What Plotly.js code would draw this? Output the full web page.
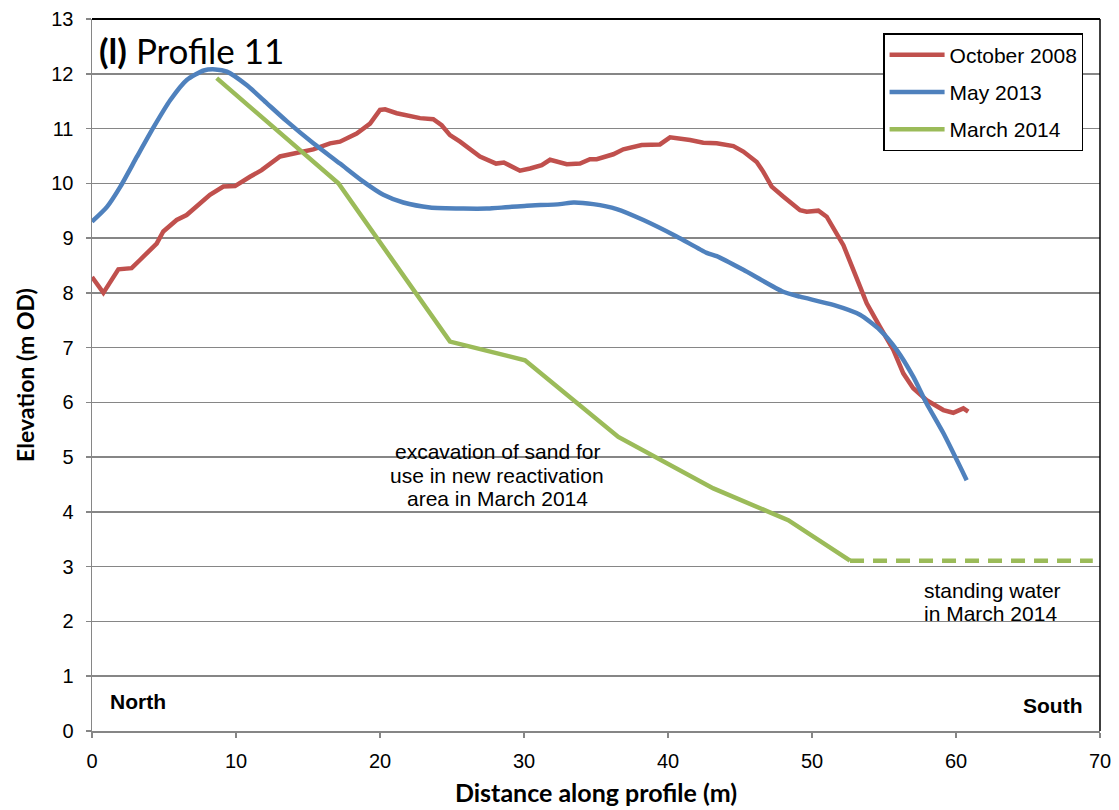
<!DOCTYPE html>
<html>
<head>
<meta charset="utf-8">
<script src="https://cdn.plot.ly/plotly-3.0.1.min.js"></script>
<style>html,body{margin:0;padding:0;background:#fff;}#chart{width:1119px;height:810px;}</style>
</head>
<body>
<div id="chart"></div>
<script>
// October 2008 survey
const oct2008X = [0,0.79,1.83,2.75,3.33,4.49,4.95,5.88,6.57,7.27,8.19,9.12,9.93,10.97,11.78,13.06,14.2,15.37,16.53,17.22,18.38,19.31,20.0,20.35,21.16,22.78,23.7,24.28,24.86,25.56,26.94,28.06,28.6,29.72,30.42,31.23,31.81,32.97,33.89,34.58,35.05,36.2,36.9,38.17,39.44,40.14,41.53,42.45,43.38,44.54,45.23,46.16,46.62,47.2,48.0,49.17,49.63,50.44,51.02,52.18,52.87,53.8,54.72,55.65,56.34,57.03,57.96,59.12,59.81,60.51,60.85];
const oct2008Y = [8.29,8.0,8.43,8.45,8.6,8.9,9.12,9.33,9.42,9.57,9.79,9.94,9.95,10.12,10.24,10.49,10.55,10.62,10.73,10.76,10.91,11.09,11.34,11.35,11.28,11.19,11.17,11.06,10.88,10.76,10.49,10.36,10.38,10.23,10.27,10.33,10.43,10.35,10.36,10.44,10.44,10.53,10.62,10.7,10.71,10.84,10.79,10.74,10.73,10.68,10.58,10.39,10.21,9.94,9.76,9.51,9.48,9.5,9.39,8.87,8.42,7.81,7.38,6.96,6.53,6.26,6.04,5.86,5.81,5.89,5.83];
// May 2013 survey
const may2013X = [0,1.04,1.97,3.13,4.29,5.44,6.6,7.76,8.56,9.37,10.76,12.15,13.54,15.37,17.22,18.84,20.23,21.62,23.47,25.79,27.41,30.19,32.5,33.43,34.81,36.44,38.29,40.6,42.69,43.38,45.23,48.0,49.17,51.48,53.33,54.72,55.88,57.03,57.96,59.12,60.74];
const may2013Y = [9.30,9.57,9.94,10.49,11.03,11.52,11.89,12.06,12.08,12.04,11.79,11.46,11.13,10.73,10.36,10.03,9.79,9.65,9.56,9.54,9.54,9.59,9.62,9.65,9.62,9.53,9.33,9.03,8.73,8.67,8.42,8.02,7.93,7.78,7.6,7.32,6.96,6.47,5.98,5.44,4.58];
// March 2014 survey
const mar2014X = [8.66,17.11,24.86,30.07,36.55,43.15,48.35,52.64];
const mar2014Y = [11.92,10.0,7.11,6.77,5.37,4.43,3.85,3.11];
// standing water (March 2014)
const waterX = [52.64,69.5];
const waterY = [3.11,3.11];

const xTicks = [0,10,20,30,40,50,60,70];
const yTicks = [0,1,2,3,4,5,6,7,8,9,10,11,12,13];

const excavationLines = ['excavation of sand for', 'use in new reactivation', 'area in March 2014'];
const excavationY = [5.11, 4.67, 4.25];
const waterLines = ['standing water', 'in March 2014'];
const waterLabelY = [2.56, 2.15];

const traces = [
  {x: oct2008X, y: oct2008Y, name: 'October 2008', type: 'scatter', mode: 'lines',
   line: {color: '#C0504D', width: 4.5}, legendgroup: 'a'},
  {x: may2013X, y: may2013Y, name: 'May 2013', type: 'scatter', mode: 'lines',
   line: {color: '#4F81BD', width: 4.5, shape: 'spline', smoothing: 0.6}, legendgroup: 'b'},
  {x: mar2014X, y: mar2014Y, name: 'March 2014', type: 'scatter', mode: 'lines',
   line: {color: '#9BBB59', width: 4.5}, legendgroup: 'c'},
  {x: waterX, y: waterY, name: 'standing water', type: 'scatter', mode: 'lines',
   line: {color: '#9BBB59', width: 4.5, dash: '14px,9px'}, showlegend: false, legendgroup: 'c'}
];

const arial = 'Arial, Liberation Sans, sans-serif';
const tickFont = {family: arial, size: 20, color: '#000'};
const txtFont = {family: arial, size: 21, color: '#000'};

const annotations = [
  {xref: 'paper', yref: 'paper', x: 0.005, y: 0.957, xanchor: 'left', yanchor: 'middle', showarrow: false,
   text: '<b>(l)</b> Profile 11', font: {family: 'Lato, Open Sans, sans-serif', size: 35, color: '#000'}},
  {xref: 'x', yref: 'y', x: 1.1, y: 0.53, xanchor: 'left', yanchor: 'middle', showarrow: false,
   text: '<b>North</b>', font: txtFont},
  {xref: 'x', yref: 'y', x: 68.9, y: 0.46, xanchor: 'right', yanchor: 'middle', showarrow: false,
   text: '<b>South</b>', font: txtFont}
];
excavationLines.forEach((t, i) => annotations.push({xref: 'x', yref: 'y', x: 28.15, y: excavationY[i],
  xanchor: 'center', yanchor: 'middle', showarrow: false, text: t, font: txtFont}));
waterLines.forEach((t, i) => annotations.push({xref: 'x', yref: 'y', x: 57.64, y: waterLabelY[i],
  xanchor: 'left', yanchor: 'middle', showarrow: false, text: t, font: txtFont}));

const layout = {
  width: 1119, height: 810,
  margin: {l: 92, r: 19, t: 19, b: 79},
  paper_bgcolor: '#fff', plot_bgcolor: '#fff',
  showlegend: true,
  legend: {x: 0.785, y: 0.98, xanchor: 'left', yanchor: 'top',
    bgcolor: '#fff', bordercolor: '#000', borderwidth: 1.3,
    font: txtFont, tracegroupgap: 7, itemwidth: 55},
  xaxis: {range: [0, 70], tickvals: xTicks, ticktext: xTicks.map(String),
    showgrid: false, zeroline: false, showline: true, linecolor: '#868686', linewidth: 1.5,
    ticks: 'outside', ticklen: 5, tickcolor: '#868686', tickwidth: 1.5,
    tickfont: tickFont, ticklabelstandoff: 6, fixedrange: true,
    title: {text: '<b>Distance along profile (m)</b>', standoff: 14,
      font: {family: 'Lato, Open Sans, sans-serif', size: 25, color: '#000'}}},
  yaxis: {range: [0, 13], tickvals: yTicks, ticktext: yTicks.map(String),
    showgrid: true, gridcolor: '#868686', gridwidth: 1.5, zeroline: false,
    showline: true, linecolor: '#868686', linewidth: 1.5,
    ticks: 'outside', ticklen: 5, tickcolor: '#868686', tickwidth: 1.5,
    tickfont: tickFont, ticklabelstandoff: 8, fixedrange: true,
    title: {text: '<b>Elevation (m OD)</b>', standoff: 10,
      font: {family: 'Lato, Open Sans, sans-serif', size: 23, color: '#000'}}},
  shapes: [
    {type: 'line', xref: 'paper', yref: 'paper', x0: 0, x1: 1, y0: 1, y1: 1, line: {color: '#000', width: 2}},
    {type: 'line', xref: 'paper', yref: 'paper', x0: 1, x1: 1, y0: 0, y1: 1, line: {color: '#000', width: 1.5}}
  ],
  annotations: annotations
};

Plotly.newPlot('chart', traces, layout, {displayModeBar: false, staticPlot: true});
</script>
</body>
</html>
